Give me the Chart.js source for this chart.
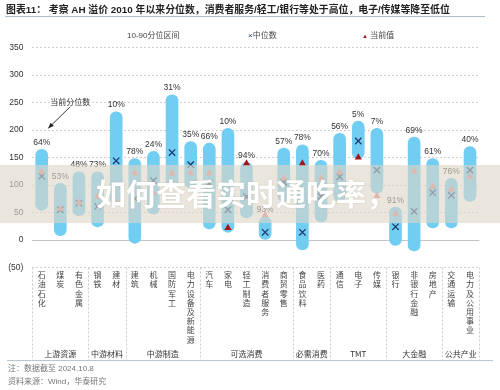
<!DOCTYPE html>
<html lang="zh">
<head>
<meta charset="UTF-8">
<title>AH 溢价分位数</title>
<script src="https://cdn.jsdelivr.net/npm/chart.js@4.4.1/dist/chart.umd.min.js"></script>
<style>
    html, body {
        margin: 0;
        padding: 0;
        background: #fff;
        width: 500px;
        height: 390px;
        overflow: hidden;
        font-family: 'Liberation Sans', 'Noto Sans CJK SC', sans-serif;
    }
    #wrap { position: relative; width: 500px; height: 390px; }
    canvas { position: absolute; left: 0; top: 0; }
    .title {
        position: absolute; left: 6px; top: 2px;
        font-size: 9.9px; font-weight: bold; color: #222; white-space: nowrap;
        font-family: 'Liberation Sans', 'Noto Sans CJK SC', sans-serif;
    }
    .rule { position: absolute; left: 5px; top: 16px; width: 480px; height: 1px; background: #a9bccb; }
    .legend { position: absolute; top: 29px; font-size: 8px; color: #444; white-space: nowrap; }
    .note { position: absolute; left: 8px; font-size: 8px; color: #777; white-space: nowrap; }
    .banner {
        position: absolute; left: 0; top: 165px; width: 500px; height: 58px;
        background: rgba(221, 215, 200, 0.62);
    }
    .banner span {
        position: absolute; left: 96px; top: 5px;
        font-family: 'Noto Sans CJK SC', sans-serif; font-weight: bold;
        font-size: 30px; color: #fff; letter-spacing: 0px;
        text-shadow: 0 0 2px rgba(160,150,130,0.4);
    }
</style>
</head>
<body>
<div id="wrap">
    <canvas id="chart" width="500" height="390"></canvas>
    <div class="title">图表11： 考察 AH 溢价 2010 年以来分位数，消费者服务/轻工/银行等处于高位，电子/传媒等降至低位</div>
    <div class="rule"></div>
    <div class="legend" style="left:127px">10-90分位区间</div>
    <div class="legend" style="left:248px"><span style="color:#1c3a6e">×</span>中位数</div>
    <div class="legend" style="left:362px"><span style="color:#a3151b;font-size:6px">▲</span> 当前值</div>
    <div class="note" style="top:362px">注：数据截至 2024.10.8</div>
    <div class="note" style="top:375px">资料来源：Wind，华泰研究</div>
    <div class="banner"><span>如何查看实时通吃率，</span></div>
</div>

<script>
    // 行业与分组
    const categories = ['石油石化', '煤炭', '有色金属', '钢铁', '建材', '建筑', '机械', '国防军工',
        '电力设备及新能源', '汽车', '家电', '轻工制造', '消费者服务', '商贸零售', '食品饮料', '医药',
        '通信', '电子', '传媒', '银行', '非银行金融', '房地产', '交通运输', '电力及公用事业'];
    const groupNames = ['上游资源', '中游材料', '中游制造', '可选消费', '必需消费', 'TMT', '大金融', '公共产业'];
    const groupSizes = [3, 2, 4, 5, 2, 3, 3, 2];

    // AH 溢价
    const p10 = [54, 8, 44, 24, 65, -6, 47, 95, 95, 20, 14, 40, 0, 70, -18, 33, 70, 148, 85, -10, -20, 22, 22, 70];
    const p90 = [165, 103, 124, 124, 233, 148, 161, 264, 179, 176, 203, 141, 42, 167, 173, 145, 194, 216, 203, 60, 187, 148, 112, 170];
    const median = [116, 55, 67, 61, 144, 75, 108, 159, 137, 103, 55, 79, 14, 105, 14, 79, 115, 180, 127, 24, 52, 86, 81, 127];
    const current = [124, 57, 68, 79, 68, 122, 85, 121, 122, 121, 22, 139, 45, 112, 139, 112, 123, 150, 80, 48, 125, 97, 92, 115];
    const pctLabels = ['64%', '53%', '48%', '73%', '10%', '78%', '24%', '31%', '35%', '66%', '10%', '94%',
        '93%', '57%', '78%', '70%', '56%', '5%', '7%', '91%', '69%', '61%', '76%', '40%'];

    const yTicks = [-50, 0, 50, 100, 150, 200, 250, 300, 350];

    // 深红色三角的行业
    const darkIdx = [10, 11, 14, 17];
    const triColors = categories.map((c, i) => darkIdx.includes(i) ? '#a3151b' : '#d98a82');

    // 百分位标签 + 注释箭头
    const labelPlugin = {
        id: 'pctLabels',
        afterDatasetsDraw(chart) {
            const c = chart.ctx, xs = chart.scales.x, ys = chart.scales.y;
            c.save();
            c.font = '8.5px "Liberation Sans", Arial, sans-serif';
            c.fillStyle = '#333';
            c.textAlign = 'center';
            c.textBaseline = 'bottom';
            pctLabels.forEach((t, i) => {
                c.fillText(t, xs.getPixelForValue(i), ys.getPixelForValue(p90[i]) - 2.5);
            });
            // 当前分位数 注释
            const tipX = xs.getPixelForValue(0) + 6.5;
            const tipY = ys.getPixelForValue(p90[0]) - 21;
            const sx = tipX + 22, sy = tipY - 21.5;
            c.strokeStyle = '#222';
            c.lineWidth = 0.9;
            c.beginPath();
            c.moveTo(sx, sy);
            c.lineTo(tipX, tipY);
            c.stroke();
            const ang = Math.atan2(tipY - sy, tipX - sx);
            c.fillStyle = '#222';
            c.beginPath();
            c.moveTo(tipX, tipY);
            c.lineTo(tipX - 6 * Math.cos(ang - 0.4), tipY - 6 * Math.sin(ang - 0.4));
            c.lineTo(tipX - 6 * Math.cos(ang + 0.4), tipY - 6 * Math.sin(ang + 0.4));
            c.closePath();
            c.fill();
            c.font = '8px "Noto Sans CJK SC", sans-serif';
            c.fillStyle = '#333';
            c.textBaseline = 'middle';
            c.fillText('当前分位数', sx, sy - 5);
            c.restore();
        }
    };

    // 分组分隔线与分组名
    const groupPlugin = {
        id: 'groups',
        afterDraw(chart) {
            const c = chart.ctx, xs = chart.scales.x, area = chart.chartArea;
            const bottom = 360;
            c.save();
            c.strokeStyle = '#c9c9c9';
            c.lineWidth = 1;
            c.setLineDash([2, 2]);
            let start = 0;
            const edges = [area.left];
            groupSizes.forEach((n, g) => {
                const end = start + n;
                const right = end < categories.length
                    ? (xs.getPixelForValue(end - 1) + xs.getPixelForValue(end)) / 2
                    : area.right;
                edges.push(right);
                start = end;
            });
            edges.forEach(x => {
                c.beginPath();
                c.moveTo(Math.round(x) + 0.5, area.bottom);
                c.lineTo(Math.round(x) + 0.5, bottom);
                c.stroke();
            });
            c.setLineDash([]);
            c.strokeStyle = '#b3c7d6';
            c.beginPath();
            c.moveTo(7, bottom + 0.5);
            c.lineTo(493, bottom + 0.5);
            c.stroke();
            c.font = '8px "Noto Sans CJK SC", "Liberation Sans", sans-serif';
            c.fillStyle = '#333';
            c.textAlign = 'center';
            c.textBaseline = 'middle';
            groupNames.forEach((name, g) => {
                c.fillText(name, (edges[g] + edges[g + 1]) / 2, 353.5);
            });
            c.restore();
        }
    };

    const ctx = document.getElementById('chart').getContext('2d');
    const chart = new Chart(ctx, {
        type: 'bar',
        data: {
            labels: categories.map(s => s.split('')),
            datasets: [
                {
                    label: '10-90分位区间',
                    data: categories.map((c, i) => [p10[i], p90[i]]),
                    backgroundColor: '#72cdf2',
                    borderWidth: 0,
                    borderRadius: 6,
                    borderSkipped: false,
                    barThickness: 12,
                    order: 2
                },
                {
                    type: 'line',
                    label: '中位数',
                    data: median,
                    showLine: false,
                    pointStyle: 'crossRot',
                    pointRadius: 4.5,
                    pointBorderColor: '#1c3a6e',
                    pointBorderWidth: 1.3,
                    order: 1
                },
                {
                    type: 'line',
                    label: '当前值',
                    data: current,
                    showLine: false,
                    pointStyle: 'triangle',
                    pointRadius: 4.2,
                    pointBackgroundColor: triColors,
                    pointBorderColor: triColors,
                    pointBorderWidth: 0,
                    order: 0
                }
            ]
        },
        options: {
            responsive: false,
            animation: false,
            layout: { padding: { left: 0, right: 20.7, top: 47.5, bottom: 0 } },
            plugins: { legend: { display: false }, tooltip: { enabled: false } },
            scales: {
                x: {
                    grid: { display: false },
                    border: { display: false },
                    ticks: {
                        autoSkip: false,
                        maxRotation: 0,
                        minRotation: 0,
                        padding: -5,
                        color: '#444',
                        font: { size: 8, family: '"Noto Sans CJK SC", sans-serif', lineHeight: 1.15 }
                    },
                    afterFit(scale) { scale.height = 122.5; }
                },
                y: {
                    min: -50,
                    max: 350,
                    afterBuildTicks(scale) { scale.ticks = yTicks.map(v => ({ value: v })); },
                    ticks: {
                        padding: 9,
                        color: '#333',
                        font: { size: 8.5, family: '"Liberation Sans", Arial, sans-serif' },
                        callback: v => v < 0 ? '(' + Math.abs(v) + ')' : v
                    },
                    grid: {
                        drawTicks: false,
                        color: c => c.tick && c.tick.value === 0 ? '#c4c4c4' : '#cfcfcf',
                        lineWidth: 1
                    },
                    border: {
                        display: false,
                        dash: c => c.tick && c.tick.value === 0 ? [] : [2, 2]
                    },
                    afterFit(scale) { scale.width = 32.4; }
                }
            }
        },
        plugins: [labelPlugin, groupPlugin]
    });
</script>
</body>
</html>
